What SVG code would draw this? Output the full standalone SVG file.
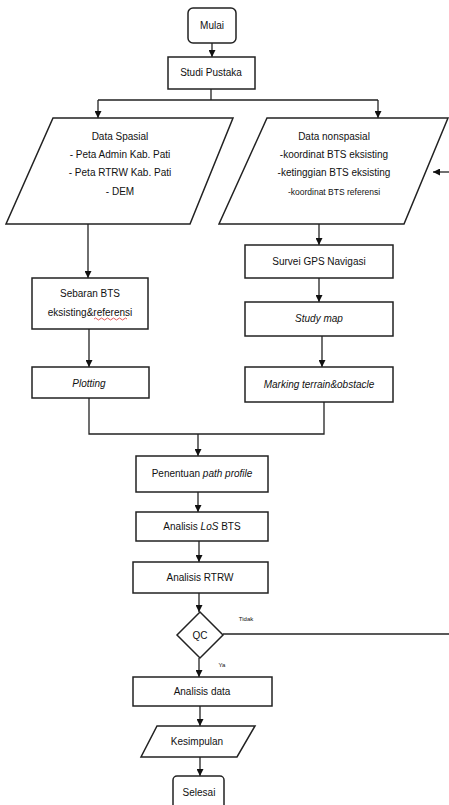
<svg xmlns="http://www.w3.org/2000/svg" width="449" height="805" viewBox="0 0 449 805">
<defs>
<marker id="ah" viewBox="0 0 10 10" refX="10" refY="5" markerWidth="7" markerHeight="7" markerUnits="userSpaceOnUse" orient="auto">
<path d="M0,0 L10,5 L0,10 z" fill="#111"/>
</marker>
<style>
.n{fill:#fff;stroke:#222;stroke-width:1.5}
.t{font-family:"Liberation Sans",Arial,sans-serif;font-size:10px;fill:#111;text-anchor:middle}
.s{font-size:9.5px}
.i{font-style:italic}
.c{fill:none;stroke:#222;stroke-width:1.3}
.a{marker-end:url(#ah)}
</style>
</defs>
<rect width="449" height="805" fill="#fff"/>
<g id="connectors">
<path class="c a" d="M212,43 V57"/>
<path class="c" d="M211,89 V100 M98,100 H378"/>
<path class="c a" d="M98,100 V118"/>
<path class="c a" d="M378,100 V118"/>
<path class="c a" d="M88,224 V278"/>
<path class="c a" d="M89,329 V367"/>
<path class="c a" d="M319,224 V245"/>
<path class="c a" d="M319,278 V302"/>
<path class="c a" d="M322,336 V367"/>
<path class="c" d="M89,398 V434 H324 V402"/>
<path class="c a" d="M198,434 V456"/>
<path class="c a" d="M198,492 V512"/>
<path class="c a" d="M199,541 V562"/>
<path class="c a" d="M199,593 V612"/>
<path class="c" d="M223,634 H449"/>
<path class="c a" d="M449,172 H433"/>
<path class="c a" d="M199,658 V677"/>
<path class="c a" d="M200,706 V726"/>
<path class="c a" d="M200,757 V776"/>
<text class="t" x="246" y="621" style="font-size:6px">Tidak</text>
<text class="t" x="222" y="667" style="font-size:6px">Ya</text>
</g>
<g id="mulai"><rect class="n" x="188" y="8" width="48" height="35" rx="5"/><text class="t" x="212" y="29">Mulai</text></g>
<g id="studi"><rect class="n" x="168" y="57" width="87" height="32"/><text class="t" x="211" y="76">Studi Pustaka</text></g>
<g id="spasial"><polygon class="n" points="53,118 233,118 190,224 6,224"/>
<text class="t" x="120" y="140">Data Spasial</text>
<text class="t" x="120" y="158">- Peta Admin Kab. Pati</text>
<text class="t" x="120" y="176">- Peta RTRW Kab. Pati</text>
<text class="t" x="120" y="195">- DEM</text></g>
<g id="nonspasial"><polygon class="n" points="267,118 448,118 404,224 219,224"/>
<text class="t" x="334" y="140">Data nonspasial</text>
<text class="t" x="334" y="158">-koordinat BTS eksisting</text>
<text class="t" x="334" y="176">-ketinggian BTS eksisting</text>
<text class="t s" x="334" y="195" style="font-size:8.5px">-koordinat  BTS referensi</text></g>
<g id="sebaran"><rect class="n" x="32" y="278" width="116" height="51"/>
<text class="t" x="90" y="297">Sebaran BTS</text>
<text class="t" x="90" y="316">eksisting&amp;referensi</text>
<path d="M94,319 q1.5,-2 3,0 t3,0 t3,0 t3,0 t3,0 t3,0 t3,0 t3,0 t3,0 t3,0 t3,0" fill="none" stroke="#e03030" stroke-width="0.8"/></g>
<g id="plotting"><rect class="n" x="32" y="367" width="117" height="31"/><text class="t i" x="89" y="387">Plotting</text></g>
<g id="survei"><rect class="n" x="245" y="245" width="148" height="33"/><text class="t" x="319" y="265">Survei GPS Navigasi</text></g>
<g id="studymap"><rect class="n" x="245" y="302" width="148" height="34"/><text class="t i" x="319" y="322">Study map</text></g>
<g id="marking"><rect class="n" x="245" y="367" width="148" height="35"/><text class="t i" x="319" y="388">Marking terrain&amp;obstacle</text></g>
<g id="penentuan"><rect class="n" x="136" y="456" width="132" height="36"/><text class="t" x="202" y="477">Penentuan <tspan class="i">path profile</tspan></text></g>
<g id="los"><rect class="n" x="136" y="512" width="132" height="29"/><text class="t" x="202" y="530">Analisis <tspan class="i">LoS</tspan> BTS</text></g>
<g id="rtrw"><rect class="n" x="133" y="562" width="135" height="31"/><text class="t" x="200" y="581">Analisis RTRW</text></g>
<g id="qc"><polygon class="n" points="200,612 223,635 200,658 177,635"/><text class="t" x="200" y="639">QC</text></g>
<g id="analisisdata"><rect class="n" x="133" y="677" width="139" height="29"/><text class="t" x="202" y="695">Analisis data</text></g>
<g id="kesimpulan"><polygon class="n" points="157,726 255,726 237,757 141,757"/><text class="t" x="197" y="745">Kesimpulan</text></g>
<g id="selesai"><rect class="n" x="173" y="776" width="51" height="40" rx="4"/><text class="t" x="199" y="796">Selesai</text></g>
</svg>
